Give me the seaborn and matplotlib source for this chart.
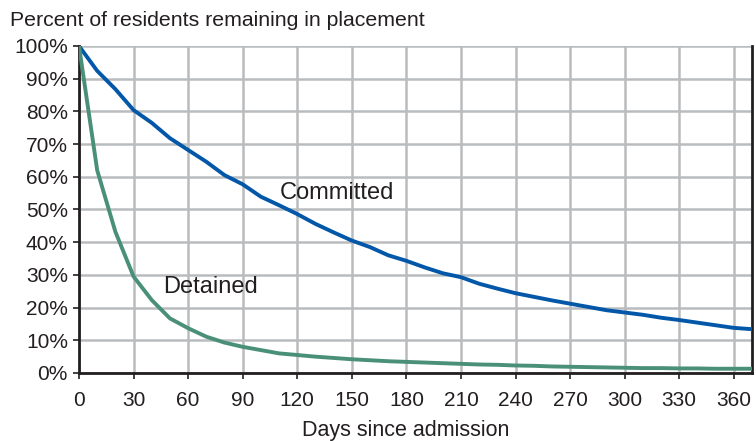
import pandas as pd
import numpy as np
import matplotlib
matplotlib.use('Agg')
import matplotlib.pyplot as plt
import seaborn as sns

# days since admission, sampled every 10 days
days = [0, 10, 20, 30, 40, 50, 60, 70, 80, 90, 100, 110, 120, 130, 140, 150, 160, 170, 180,
        190, 200, 210, 220, 230, 240, 250, 260, 270, 280, 290, 300, 310, 320, 330, 340, 350, 360, 370]

committed = [100, 92.4, 86.8, 80.4, 76.5, 71.8, 68.2, 64.6, 60.5, 57.7, 53.9, 51.3, 48.6, 45.6,
             43.0, 40.5, 38.5, 36.0, 34.3, 32.3, 30.5, 29.3, 27.3, 25.8, 24.4, 23.3, 22.2, 21.2,
             20.2, 19.2, 18.5, 17.8, 16.9, 16.2, 15.4, 14.6, 13.8, 13.4]

detained = [100, 62.0, 43.2, 29.5, 22.3, 16.7, 13.7, 11.1, 9.3, 8.0, 7.0, 6.0, 5.5, 5.0,
            4.6, 4.2, 3.9, 3.6, 3.4, 3.2, 3.0, 2.8, 2.6, 2.5, 2.3, 2.2, 2.0, 1.9,
            1.8, 1.7, 1.6, 1.5, 1.5, 1.4, 1.4, 1.3, 1.3, 1.3]

xticks = [0, 30, 60, 90, 120, 150, 180, 210, 240, 270, 300, 330, 360]
yticks = [0, 10, 20, 30, 40, 50, 60, 70, 80, 90, 100]

df = pd.DataFrame({
    'days': days * 2,
    'pct': committed + detained,
    'group': ['Committed'] * len(days) + ['Detained'] * len(days),
})

sns.set_style('white')
plt.rcParams['font.family'] = ['Liberation Sans', 'DejaVu Sans']

fig = plt.figure(figsize=(7.56, 4.41), dpi=100)
ax = fig.add_axes([0.1045, 0.1542, 0.8902, 0.7415])

sns.lineplot(data=df, x='days', y='pct', hue='group',
             palette={'Committed': '#0357a8', 'Detained': '#4a9078'},
             linewidth=2.8, legend=False, ax=ax, zorder=3)

ax.set_xlim(0, 370)
ax.set_ylim(0, 100)
ax.set_xticks(xticks)
ax.set_yticks(yticks)
ax.set_xticklabels([str(t) for t in xticks], fontsize=15, color='#231f20')
ax.set_yticklabels([f'{t}%' for t in yticks], fontsize=15, color='#231f20')
ax.grid(True, color='#b9bcbe', linewidth=1.8, zorder=0)
ax.set_axisbelow(True)
ax.tick_params(axis='y', length=4, width=1.2, color='#231f20', pad=4, left=True)
ax.tick_params(axis='x', length=4, width=1.2, color='#231f20', pad=9, bottom=True)

for side in ['left', 'bottom', 'right']:
    ax.spines[side].set_color('#231f20')
    ax.spines[side].set_linewidth(2)
ax.spines['top'].set_visible(False)

ax.set_xlabel('Days since admission', fontsize=15.5, color='#231f20')
ax.xaxis.set_label_coords(0.485, -0.145)
ax.set_ylabel('')
fig.text(0.013, 0.953, 'Percent of residents remaining in placement', fontsize=15.3,
         color='#231f20', ha='left', va='center')

ax.text(110.5, 55, 'Committed', fontsize=17, color='#231f20', va='center', ha='left', zorder=4)
ax.text(46, 26.3, 'Detained', fontsize=17, color='#231f20', va='center', ha='left', zorder=4)

fig.savefig('out.png', dpi=100)
